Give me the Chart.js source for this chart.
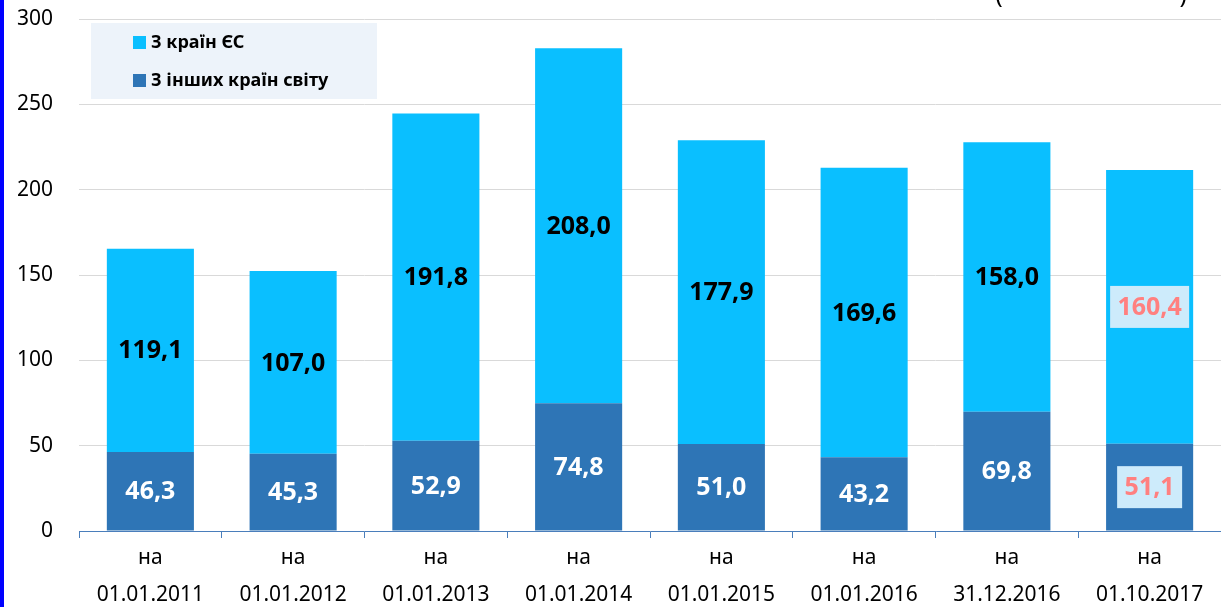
<!DOCTYPE html>
<html>
<head>
<meta charset="utf-8">
<script src="https://cdn.jsdelivr.net/npm/chart.js@4"></script>
<style>
  html, body { margin: 0; padding: 0; background: #fff; }
  #wrap { width: 1221px; height: 607px; position: relative; }
</style>
</head>
<body>
<div id="wrap"><canvas id="dash" width="1221" height="607"></canvas></div>
<script>
// дати
const categorias = [
  ['на', '01.01.2011'], ['на', '01.01.2012'], ['на', '01.01.2013'], ['на', '01.01.2014'],
  ['на', '01.01.2015'], ['на', '01.01.2016'], ['на', '31.12.2016'], ['на', '01.10.2017']
];
const inshiKrainy = [46.3, 45.3, 52.9, 74.8, 51.0, 43.2, 69.8, 51.1];
const krainyES = [119.1, 107.0, 191.8, 208.0, 177.9, 169.6, 158.0, 160.4];
const yTicks = [0, 50, 100, 150, 200, 250, 300];
const legendaTextos = ['З країн ЄС', 'З інших країн світу'];
const unidade = 'млн. дол. США';

const FONTE = '"Noto Sans", "DejaVu Sans", sans-serif';

function fmt(v) {
  return v.toFixed(1).replace('.', ',');
}

// rótulos e legenda desenhados à mão
const extras = {
  id: 'extras',
  afterDraw(chart) {
    const ctx = chart.ctx;
    ctx.save();
    // faixa azul à esquerda
    ctx.fillStyle = '#0000ff';
    ctx.fillRect(0, 0, 4, 607);

    // unidade (cortada no topo)
    ctx.fillStyle = '#000';
    ctx.textAlign = 'center';
    ctx.textBaseline = 'alphabetic';
    ctx.font = '22px ' + FONTE;
    ctx.fillText(unidade, 1091, -6);
    ctx.font = '24px ' + FONTE;
    ctx.fillText('(', 999, 3);
    ctx.fillText(')', 1183, 3);

    // legenda
    ctx.fillStyle = '#edf3fa';
    ctx.fillRect(91, 23, 286, 76);
    const cores = ['#0abfff', '#2e75b6'];
    ctx.font = 'bold 18px ' + FONTE;
    ctx.textAlign = 'left';
    ctx.textBaseline = 'middle';
    legendaTextos.forEach((t, i) => {
      const y = 36 + i * 38;
      ctx.fillStyle = cores[i];
      ctx.fillRect(133, y, 13, 13);
      ctx.fillStyle = '#000';
      ctx.fillText(t, 151, y + 7);
    });

    // valores nas barras
    ctx.font = 'bold 25px ' + FONTE;
    ctx.textAlign = 'center';
    chart.data.datasets.forEach((ds, di) => {
      const meta = chart.getDatasetMeta(di);
      meta.data.forEach((bar, i) => {
        const yc = (bar.y + bar.base) / 2;
        const txt = fmt(ds.data[i]);
        if (i === categorias.length - 1) {
          const w = txt.length > 4 ? 79 : 65;
          ctx.fillStyle = '#cdebfb';
          ctx.fillRect(bar.x - w / 2, yc - 21, w, 42);
          ctx.fillStyle = '#ff8080';
        } else {
          ctx.fillStyle = di === 0 ? '#ffffff' : '#000000';
        }
        ctx.fillText(txt, bar.x, yc + 1);
      });
    });
    ctx.restore();
  }
};

new Chart(document.getElementById('dash'), {
  type: 'bar',
  data: {
    labels: categorias,
    datasets: [
      {
        label: legendaTextos[1],
        data: inshiKrainy,
        backgroundColor: '#2e75b6',
        categoryPercentage: 1,
        barPercentage: 0.61
      },
      {
        label: legendaTextos[0],
        data: krainyES,
        backgroundColor: '#0abfff',
        categoryPercentage: 1,
        barPercentage: 0.61
      }
    ]
  },
  options: {
    responsive: false,
    animation: false,
    layout: { padding: { top: 19, right: 0, left: 0, bottom: 0 } },
    plugins: {
      legend: { display: false },
      tooltip: { enabled: false }
    },
    scales: {
      x: {
        stacked: true,
        grid: {
          offset: true,
          drawOnChartArea: false,
          drawTicks: true,
          tickLength: 7,
          color: '#4a7ebb'
        },
        border: { display: true, color: '#4a7ebb', width: 1 },
        ticks: {
          color: '#000',
          font: { family: FONTE, size: 21, lineHeight: 1.75 },
          padding: 2,
          maxRotation: 0,
          autoSkip: false
        },
        afterFit(scale) {
          scale.height = 76;
          scale.paddingLeft = 0;
          scale.paddingRight = 0;
        }
      },
      y: {
        stacked: true,
        min: 0,
        max: 300,
        afterBuildTicks(scale) { scale.ticks = yTicks.map(v => ({ value: v })); },
        grid: { color: '#d9d9d9', drawTicks: false },
        border: { display: false },
        ticks: {
          color: '#000',
          font: { family: FONTE, size: 21 },
          padding: 26
        },
        afterFit(scale) {
          scale.width = 79;
          scale.paddingTop = 0;
          scale.paddingBottom = 0;
        }
      }
    }
  },
  plugins: [extras]
});
</script>
</body>
</html>
